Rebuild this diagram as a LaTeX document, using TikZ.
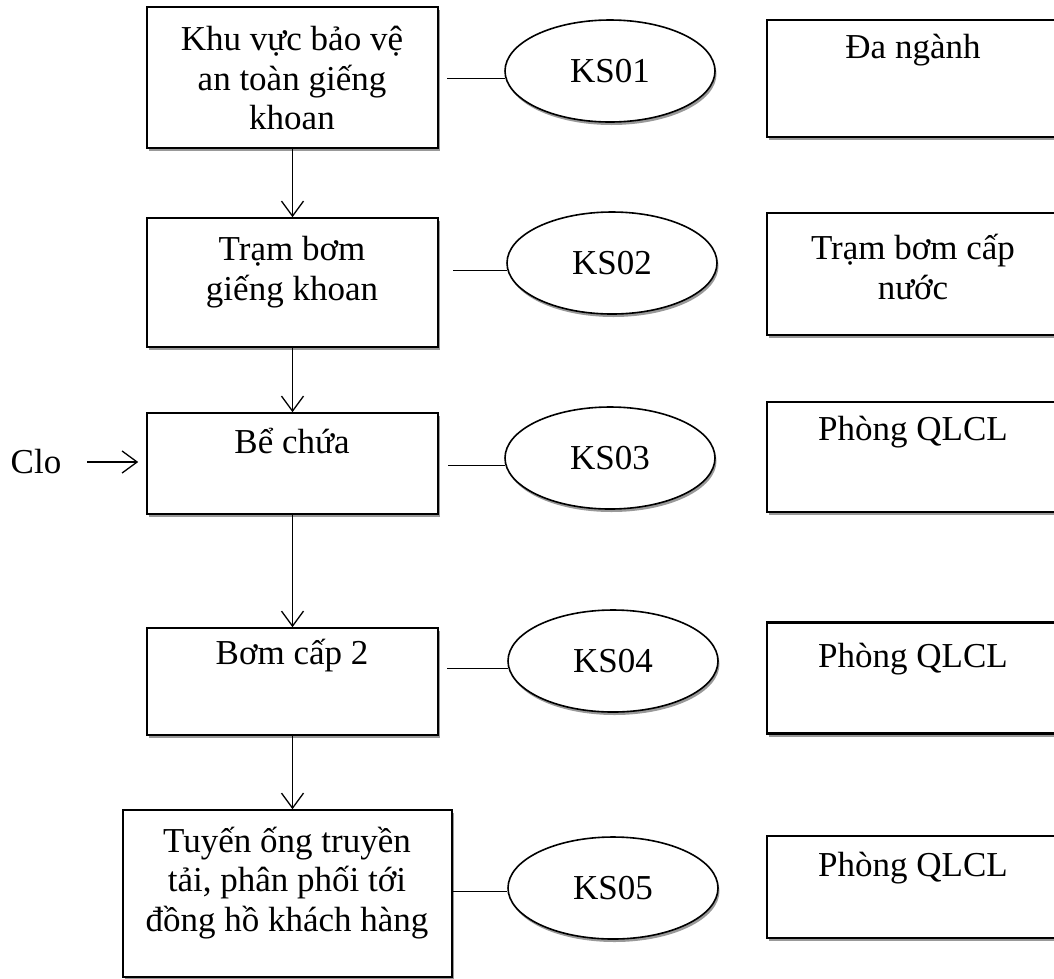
\documentclass[tikz,border=0pt]{standalone}
\usepackage{fontspec}
\setmainfont{Liberation Serif}
\usetikzlibrary{arrows.meta,shadows,shapes.geometric}
\newcommand\diagfont{\fontsize{35}{39.5}\selectfont}
\begin{document}
\begin{tikzpicture}[x=1pt,y=-1pt,
  boxshadow/.style={drop shadow={shadow xshift=1.5pt,shadow yshift=-3pt,fill=black!40,opacity=1}},
  stage/.style={draw,line width=1.6pt,fill=white,inner sep=0pt,boxshadow},
  unit/.style={draw,line width=2.4pt,fill=white,inner sep=0pt,boxshadow},
  point/.style={ellipse,draw,line width=1.6pt,fill=white,inner sep=0pt,
    minimum width=210pt,minimum height=102pt,font=\diagfont,boxshadow},
  txt/.style={align=center,font=\diagfont,inner sep=0pt},
  flow/.style={line width=1.3pt,-{Straight Barb[length=15pt,width=22pt,line width=1.3pt]}},
  tie/.style={line width=1.3pt}]
\useasboundingbox (0,0) rectangle (1054,978);

% process chain (left column)
\node[stage,minimum width=291pt,minimum height=141pt] (b1) at (292.5,77.5) {};
\node[stage,minimum width=291pt,minimum height=129pt] (b2) at (292.5,282.5) {};
\node[stage,minimum width=291pt,minimum height=101pt] (b3) at (292.5,463.5) {};
\node[stage,minimum width=291pt,minimum height=107pt] (b4) at (292.5,681.5) {};
\node[stage,minimum width=329pt,minimum height=167pt] (b5) at (287.5,893.5) {};

\node[txt] (t1) at (292,78) {Khu vực bảo vệ\\an toàn giếng\\khoan};
\node[txt] (t2) at (292,272) {Trạm bơm\\giếng khoan};
\node[txt] (t3) at (292,441) {Bể chứa};
\node[txt] (t4) at (292,656) {Bơm cấp 2};
\node[txt] (t5) at (287,883) {Tuyến ống truyền\\tải, phân phối tới\\đồng hồ khách hàng};

% control points
\node[point] (e1) at (610,71) {KS01};
\node[point] (e2) at (612,263) {KS02};
\node[point] (e3) at (610,458) {KS03};
\node[point] (e4) at (613,661) {KS04};
\node[point] (e5) at (613,888) {KS05};

% responsible units (right column)
\node[unit,minimum width=292pt,minimum height=117pt] (r1) at (913,78.5) {};
\node[unit,minimum width=292pt,minimum height=122pt] (r2) at (913,274) {};
\node[unit,minimum width=292pt,minimum height=110pt] (r3) at (913,457) {};
\node[unit,minimum width=292pt,minimum height=111pt] (r4) at (913,678) {};
\node[unit,minimum width=292pt,minimum height=102pt] (r5) at (913,887) {};

\node[txt] (u1) at (913,50) {Đa ngành};
\node[txt] (u2) at (913,267) {Trạm bơm cấp\\nước};
\node[txt] (u3) at (913,432) {Phòng QLCL};
\node[txt] (u4) at (913,659) {Phòng QLCL};
\node[txt] (u5) at (913,868) {Phòng QLCL};

% flow between stages
\draw[flow] (b1.south) -- (b1.south |- b2.north);
\draw[flow] (b2.south) -- (b2.south |- b3.north);
\draw[flow] (b3.south) -- (b3.south |- b4.north);
\draw[flow] (b4.south) -- (b4.south |- b5.north);

% chlorine dosing
\node[txt] (clo) at (36,462) {Clo};
\coordinate (cs) at (87,462);
\draw[flow,shorten >=8pt] (cs) -- (cs -| b3.west);

% links to control points
\coordinate (s1) at (447,0);
\coordinate (s2) at (453,0);
\coordinate (s3) at (448,0);
\coordinate (s4) at (447,0);
\coordinate (s5) at (453,0);
\draw[tie] (s1 |- e1.184) -- (e1.184);
\draw[tie] (s2 |- e2.184) -- (e2.184);
\draw[tie] (s3 |- e3.184) -- (e3.184);
\draw[tie] (s4 |- e4.184) -- (e4.184);
\draw[tie] (s5 |- e5.182) -- (e5.182);
\end{tikzpicture}
\end{document}
